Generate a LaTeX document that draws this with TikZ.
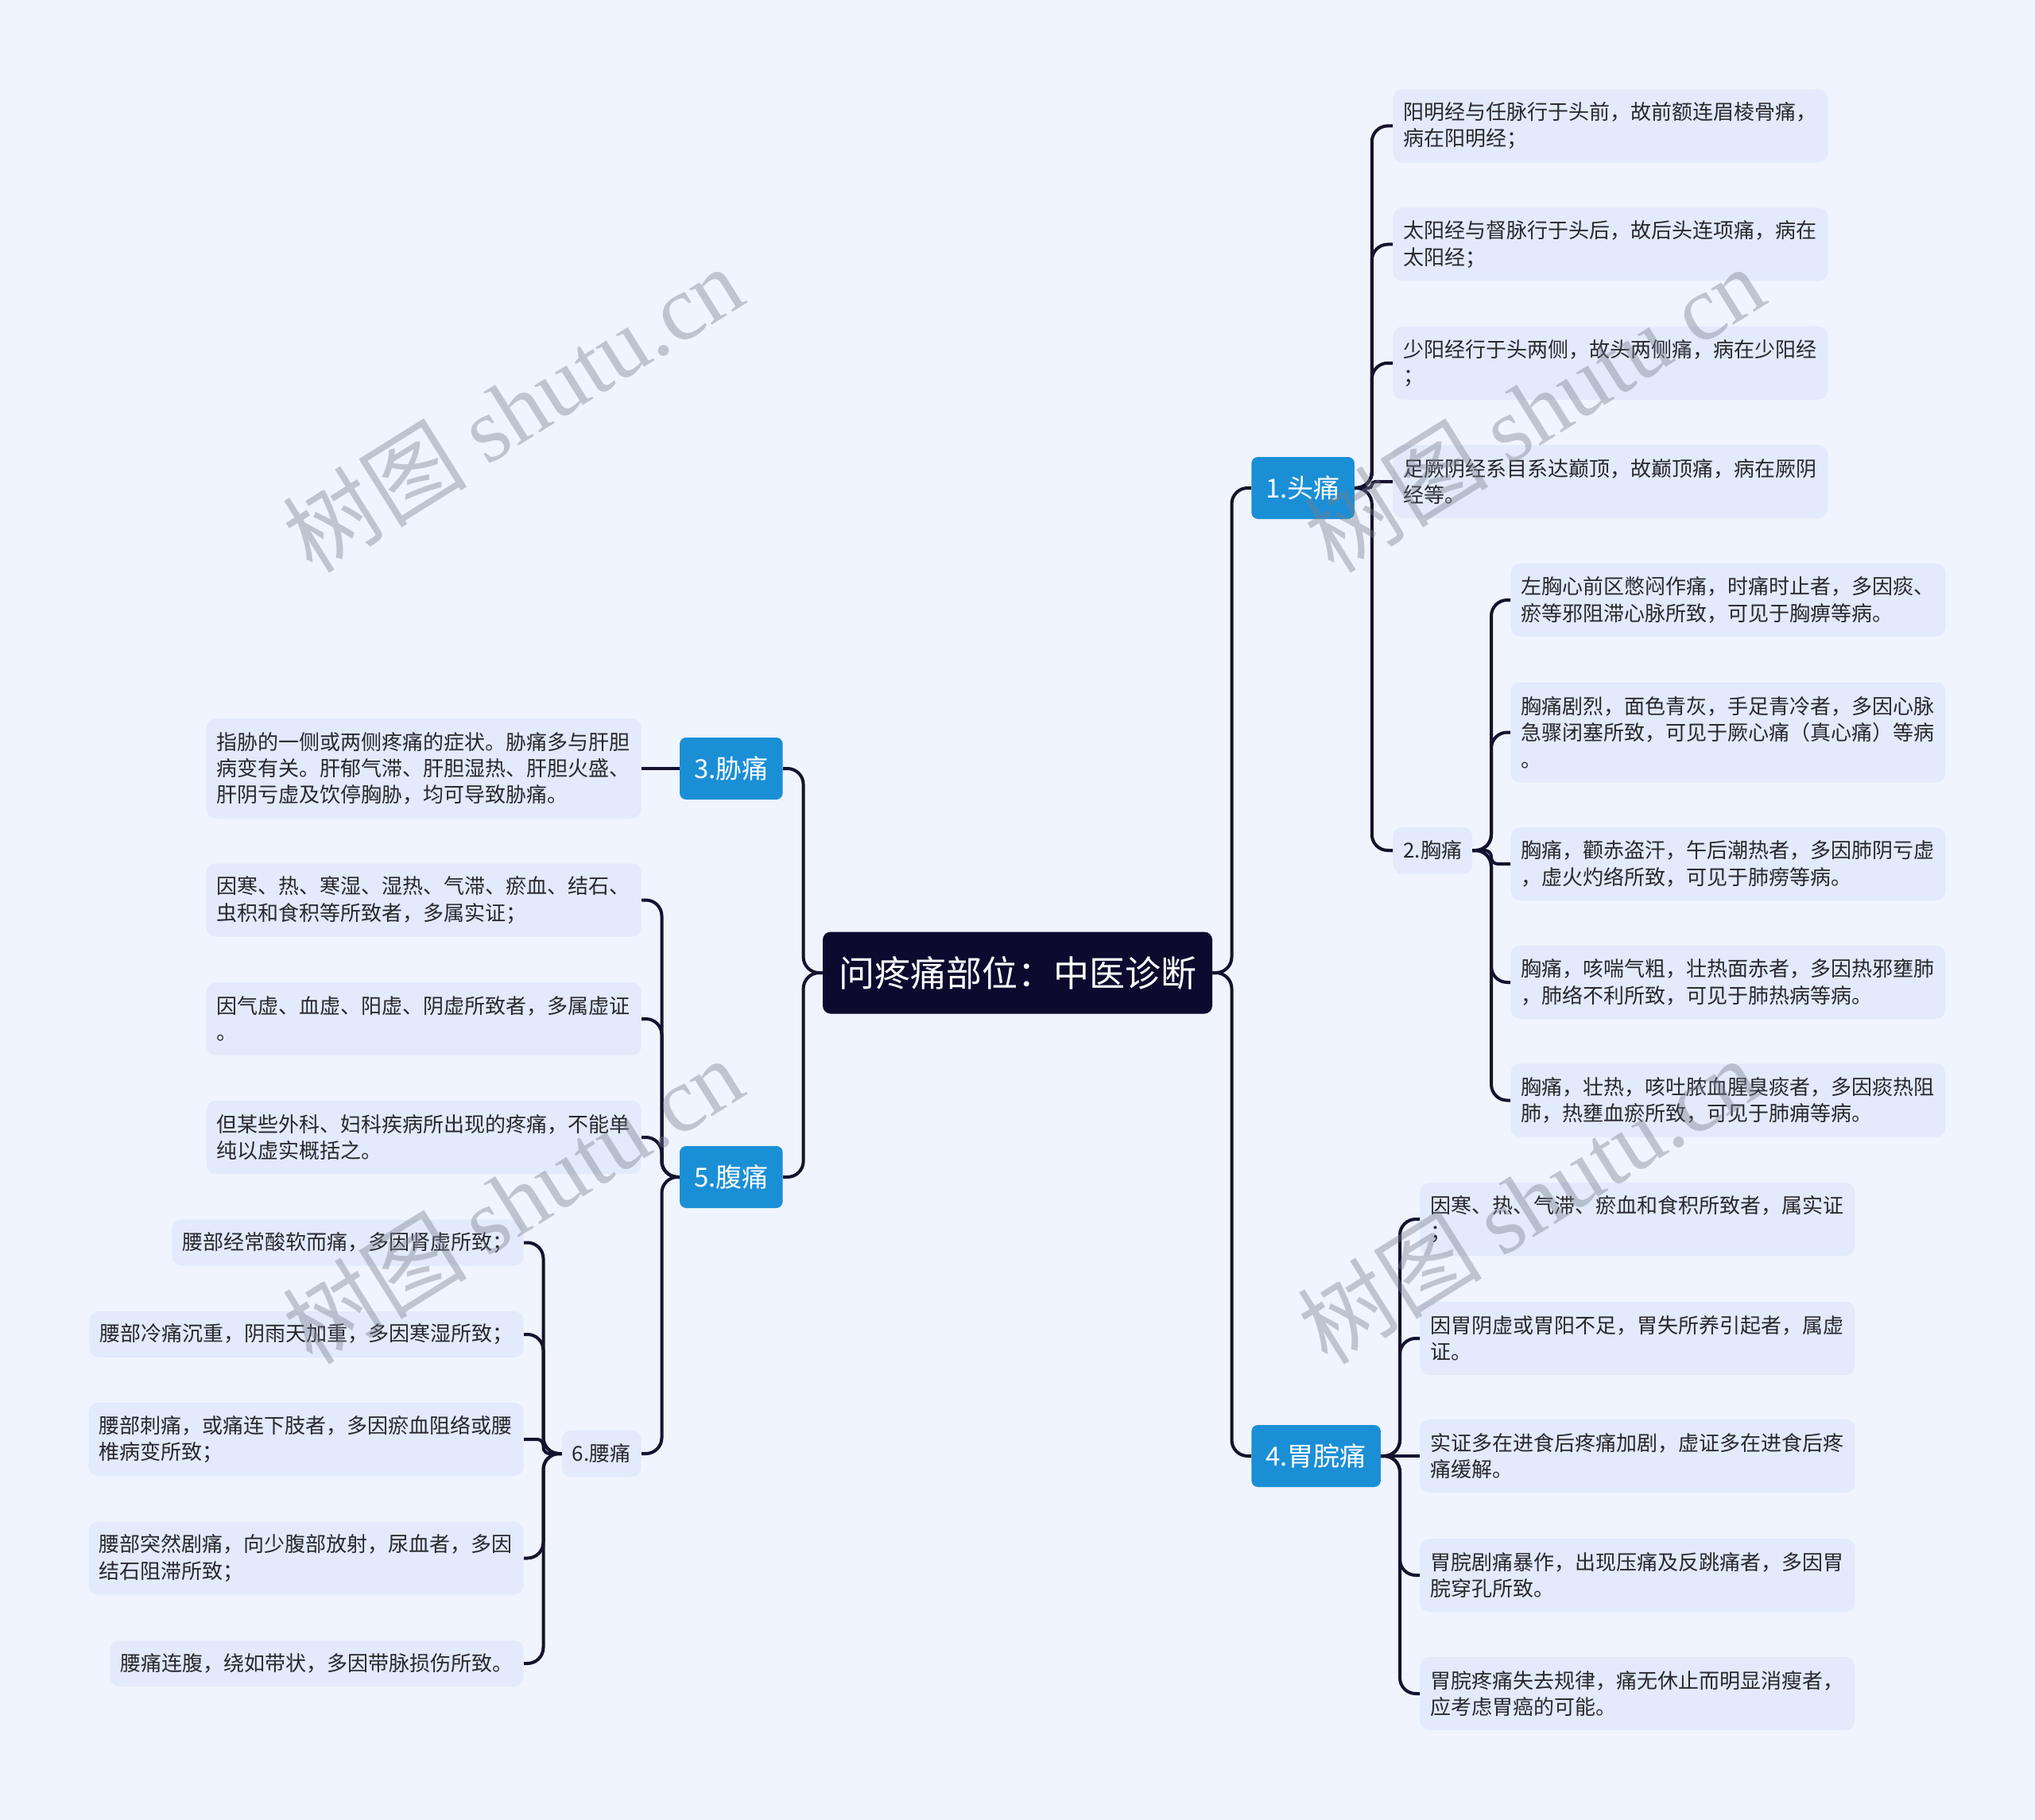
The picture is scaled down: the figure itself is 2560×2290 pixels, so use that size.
\documentclass[tikz,border=0pt]{standalone}
\usepackage{fontspec}
\setmainfont{Noto Sans CJK SC}
\newfontfamily\wmlatin{Liberation Serif}
\newfontfamily\wmcjk{Noto Sans CJK SC}
\definecolor{bgc}{RGB}{239,244,254}
\definecolor{leafc}{RGB}{226,234,251}
\definecolor{bluec}{RGB}{27,143,214}
\definecolor{rootc}{RGB}{12,10,46}
\definecolor{linec}{RGB}{20,18,46}
\definecolor{txtc}{RGB}{40,40,45}
\definecolor{wmc}{RGB}{120,125,140}
\newcommand{\leaffont}{\fontsize{13pt}{16.65pt}\selectfont}
\tikzset{
  leafbox/.style={fill=leafc, rounded corners=6pt, inner xsep=6.5pt, inner ysep=0pt,
    align=left, font=\leaffont, text=txtc, minimum height=46pt},
  wideleaf/.style={leafbox, text width=260.5pt},
  threeleaf/.style={wideleaf, minimum height=63pt},
  oneleaf/.style={leafbox, minimum height=29pt},
  bluebox/.style={fill=bluec, rounded corners=4pt, text=white, inner xsep=9pt,
    inner ysep=0pt, minimum height=39pt, font=\fontsize{16.5pt}{19pt}\selectfont},
  smallbox/.style={fill=leafc, rounded corners=6pt, text=txtc, inner xsep=6.5pt,
    inner ysep=0pt, minimum height=29.5pt, font=\leaffont},
  rootbox/.style={fill=rootc, rounded corners=5pt, text=white, minimum width=245pt,
    minimum height=51.5pt, inner sep=0pt, font=\fontsize{22.5pt}{26pt}\selectfont},
  conn/.style={draw=linec, line width=2pt, rounded corners=10pt},
  conntight/.style={conn, rounded corners=4pt},
  conntiny/.style={conn, rounded corners=2pt},
  wm/.style={text=wmc, opacity=0.4, text opacity=0.4, rotate=32, inner sep=0pt,
    font=\fontsize{58pt}{66pt}\selectfont}
}
\begin{document}
\begin{tikzpicture}[x=0.5pt,y=-0.5pt]
\useasboundingbox (0,0) rectangle (2560,2290);
\fill[bgc] (0,0) rectangle (2560,2290);

% spine coordinates
\coordinate (sR) at (1549.5,0);
\coordinate (sL) at (1010.6,0);
\coordinate (sH) at (1725.8,0);
\coordinate (sC) at (1876,0);
\coordinate (sG) at (1761,0);
\coordinate (sA) at (832.5,0);
\coordinate (sW) at (683.5,0);

% root
\node[rootbox] (root) at (1280,1224) {问疼痛部位：中医诊断};

% branches
\node[bluebox, anchor=west] (b1) at (1574,614) {1.头痛};
\node[bluebox, anchor=west] (b4) at (1574,1832) {4.胃脘痛};
\node[bluebox, anchor=east] (b3) at (985,967) {3.胁痛};
\node[bluebox, anchor=east] (b5) at (985,1481) {5.腹痛};
\node[smallbox, anchor=west] (s2) at (1752,1070) {2.胸痛};
\node[smallbox, anchor=east] (s6) at (807,1829) {6.腰痛};

% head leaves
\node[wideleaf, anchor=west] (h1) at (1752,158.4) {阳明经与任脉行于头前，故前额连眉棱骨痛，\\病在阳明经；};
\node[wideleaf, anchor=west] (h2) at (1752,307.5) {太阳经与督脉行于头后，故后头连项痛，病在\\太阳经；};
\node[wideleaf, anchor=west] (h3) at (1752,456.8) {少阳经行于头两侧，故头两侧痛，病在少阳经\\；};
\node[wideleaf, anchor=west] (h4) at (1752,606) {足厥阴经系目系达巅顶，故巅顶痛，病在厥阴\\经等。};

% chest leaves
\node[wideleaf, anchor=west] (c1) at (1900,755) {左胸心前区憋闷作痛，时痛时止者，多因痰、\\瘀等邪阻滞心脉所致，可见于胸痹等病。};
\node[threeleaf, anchor=west] (c2) at (1900,921.5) {胸痛剧烈，面色青灰，手足青冷者，多因心脉\\急骤闭塞所致，可见于厥心痛（真心痛）等病\\。};
\node[wideleaf, anchor=west] (c3) at (1900,1087) {胸痛，颧赤盗汗，午后潮热者，多因肺阴亏虚\\，虚火灼络所致，可见于肺痨等病。};
\node[wideleaf, anchor=west] (c4) at (1900,1236) {胸痛，咳喘气粗，壮热面赤者，多因热邪壅肺\\，肺络不利所致，可见于肺热病等病。};
\node[wideleaf, anchor=west] (c5) at (1900,1384.5) {胸痛，壮热，咳吐脓血腥臭痰者，多因痰热阻\\肺，热壅血瘀所致，可见于肺痈等病。};

% gastric leaves
\node[wideleaf, anchor=west] (g1) at (1786,1534) {因寒、热、气滞、瘀血和食积所致者，属实证\\；};
\node[wideleaf, anchor=west] (g2) at (1786,1684) {因胃阴虚或胃阳不足，胃失所养引起者，属虚\\证。};
\node[wideleaf, anchor=west] (g3) at (1786,1832) {实证多在进食后疼痛加剧，虚证多在进食后疼\\痛缓解。};
\node[wideleaf, anchor=west] (g4) at (1786,1982) {胃脘剧痛暴作，出现压痛及反跳痛者，多因胃\\脘穿孔所致。};
\node[wideleaf, anchor=west] (g5) at (1786,2131) {胃脘疼痛失去规律，痛无休止而明显消瘦者，\\应考虑胃癌的可能。};

% left leaves
\node[threeleaf, anchor=east] (x1) at (807,967) {指胁的一侧或两侧疼痛的症状。胁痛多与肝胆\\病变有关。肝郁气滞、肝胆湿热、肝胆火盛、\\肝阴亏虚及饮停胸胁，均可导致胁痛。};
\node[wideleaf, anchor=east] (a1) at (807,1132.5) {因寒、热、寒湿、湿热、气滞、瘀血、结石、\\虫积和食积等所致者，多属实证；};
\node[wideleaf, anchor=east] (a2) at (807,1282) {因气虚、血虚、阳虚、阴虚所致者，多属虚证\\。};
\node[wideleaf, anchor=east] (a3) at (807,1431) {但某些外科、妇科疾病所出现的疼痛，不能单\\纯以虚实概括之。};

% waist leaves
\node[oneleaf, anchor=east] (w1) at (659,1563.5) {腰部经常酸软而痛，多因肾虚所致；};
\node[oneleaf, anchor=east] (w2) at (659,1679) {腰部冷痛沉重，阴雨天加重，多因寒湿所致；};
\node[wideleaf, anchor=east] (w3) at (659,1811) {腰部刺痛，或痛连下肢者，多因瘀血阻络或腰\\椎病变所致；};
\node[wideleaf, anchor=east] (w4) at (659,1960.5) {腰部突然剧痛，向少腹部放射，尿血者，多因\\结石阻滞所致；};
\node[oneleaf, anchor=east] (w5) at (659,2093) {腰痛连腹，绕如带状，多因带脉损伤所致。};

% connectors: root
\foreach \c in {b1,b4} \draw[conn] (root.east) -- (root.east -| sR) |- (\c.west);
\foreach \c in {b3,b5} \draw[conn] (root.west) -- (root.west -| sL) |- (\c.east);
% head
\foreach \c in {h1,h2,h3,s2} \draw[conn] (b1.east) -- (b1.east -| sH) |- (\c.west);
\draw[conntiny] (b1.east) -- (b1.east -| sH) |- (h4.west);
% chest
\foreach \c in {c1,c2,c4,c5} \draw[conn] (s2.east) -- (s2.east -| sC) |- (\c.west);
\draw[conntight] (s2.east) -- (s2.east -| sC) |- (c3.west);
% gastric
\foreach \c in {g1,g2,g4,g5} \draw[conn] (b4.east) -- (b4.east -| sG) |- (\c.west);
\draw[conn] (b4.east) -- (g3.west);
% rib
\draw[conn] (b3.west) -- (x1.east);
% abdomen
\foreach \c in {a1,a2,a3,s6} \draw[conn] (b5.west) -- (b5.west -| sA) |- (\c.east);
% waist
\foreach \c in {w1,w2,w4,w5} \draw[conn] (s6.west) -- (s6.west -| sW) |- (\c.east);
\draw[conntight] (s6.west) -- (s6.west -| sW) |- (w3.east);

% watermarks
\node[wm] (wm1) at (645,514) {{\wmcjk 树图} {\wmlatin shutu.cn}};
\node[wm] (wm2) at (645,1510) {{\wmcjk 树图} {\wmlatin shutu.cn}};
\node[wm] (wm3) at (1930,514) {{\wmcjk 树图} {\wmlatin shutu.cn}};
\node[wm] (wm4) at (1922,1510) {{\wmcjk 树图} {\wmlatin shutu.cn}};
\end{tikzpicture}
\end{document}
